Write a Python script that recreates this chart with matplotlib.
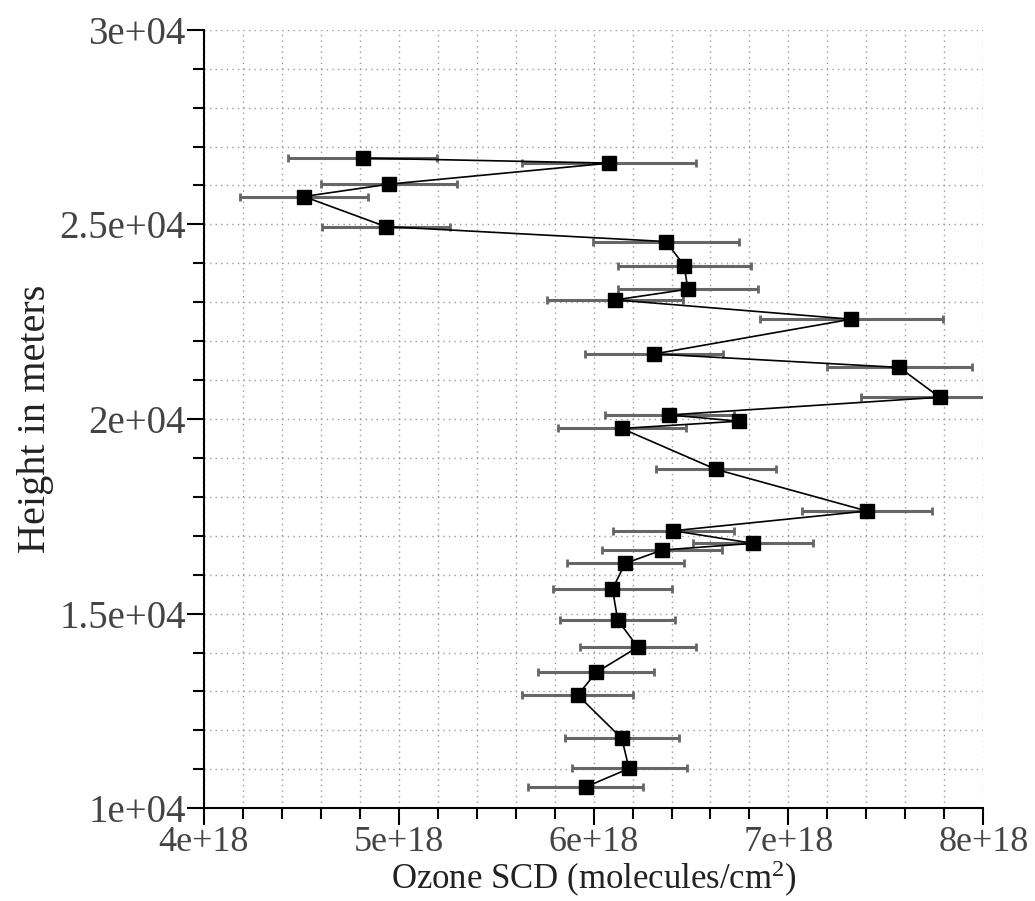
import numpy as np
import matplotlib
matplotlib.use("Agg")
import matplotlib.pyplot as plt
from matplotlib.ticker import MultipleLocator, FuncFormatter

# ozone slant column density (in 1e18 molecules/cm^2) and height (m)
scd = [4.815, 6.081, 4.951, 4.513, 4.933, 6.372, 6.465, 6.484, 6.112, 7.322,
       6.312, 7.569, 7.776, 6.389, 6.744, 6.145, 6.627, 7.403, 6.410, 6.817,
       6.352, 6.162, 6.097, 6.124, 6.227, 6.013, 5.919, 6.145, 6.182, 5.961]
height = [26702, 26573, 26033, 25715, 24943, 24558, 23941, 23334, 23059, 22563,
          21671, 21324, 20558, 20103, 19943, 19756, 18707, 17635, 17128, 16805,
          16632, 16290, 15630, 14833, 14139, 13488, 12905, 11792, 11020, 10548]
scd_err = [0.383, 0.447, 0.349, 0.329, 0.329, 0.375, 0.341, 0.359, 0.349, 0.470,
           0.354, 0.372, 0.404, 0.331, 0.0, 0.327, 0.308, 0.334, 0.311, 0.307,
           0.308, 0.300, 0.303, 0.295, 0.298, 0.298, 0.285, 0.294, 0.295, 0.295]

x = np.array(scd) * 1e18
xerr = np.array(scd_err) * 1e18
y = np.array(height)

plt.rcParams['font.family'] = ['Liberation Serif', 'DejaVu Serif']
plt.rcParams['mathtext.fontset'] = 'custom'
plt.rcParams['mathtext.rm'] = 'Liberation Serif'
plt.rcParams['mathtext.it'] = 'Liberation Serif:italic'

fig = plt.figure(figsize=(10.35, 9.01), dpi=100)
ax = fig.add_axes([0.197, 0.103, 0.753, 0.864])

ax.errorbar(x, y, xerr=xerr, fmt='none', ecolor='#666666', elinewidth=2.2,
            capsize=3, capthick=2, zorder=2)
ax.plot(x, y, color='black', lw=1.2, marker='s', markersize=9.5,
        markerfacecolor='black', markeredgecolor='black', zorder=3)

ax.set_xlim(4e18, 8e18)
ax.set_ylim(1e4, 3e4)

ax.xaxis.set_major_locator(MultipleLocator(1e18))
ax.xaxis.set_minor_locator(MultipleLocator(0.2e18))
ax.yaxis.set_major_locator(MultipleLocator(5000))
ax.yaxis.set_minor_locator(MultipleLocator(1000))

ax.xaxis.set_major_formatter(FuncFormatter(lambda v, p: "%de+18" % round(v / 1e18)))
ax.yaxis.set_major_formatter(FuncFormatter(
    lambda v, p: ("%.1fe+04" % (v / 1e4)).replace(".0e", "e")))

ax.grid(True, which='both', linestyle=(0, (1, 3)), color='#999999', lw=1)
ax.set_axisbelow(True)

for s in ['top', 'right']:
    ax.spines[s].set_visible(False)
ax.spines['left'].set_linewidth(1.5)
ax.spines['bottom'].set_linewidth(1.5)

ax.tick_params(which='major', length=12, width=1.5, labelsize=28,
               labelcolor='#444444', direction='out', pad=1)
ax.tick_params(axis='x', which='major', labelsize=26)
ax.tick_params(which='minor', length=8, width=1.5, direction='out')

ax.set_xlabel("Ozone SCD (molecules/cm$^{\\mathrm{2}}$)", fontsize=25,
              color='#222222', labelpad=0)
ax.set_ylabel("Height in meters", fontsize=29, color='#222222', labelpad=4)

fig.savefig("out.png", dpi=100)
